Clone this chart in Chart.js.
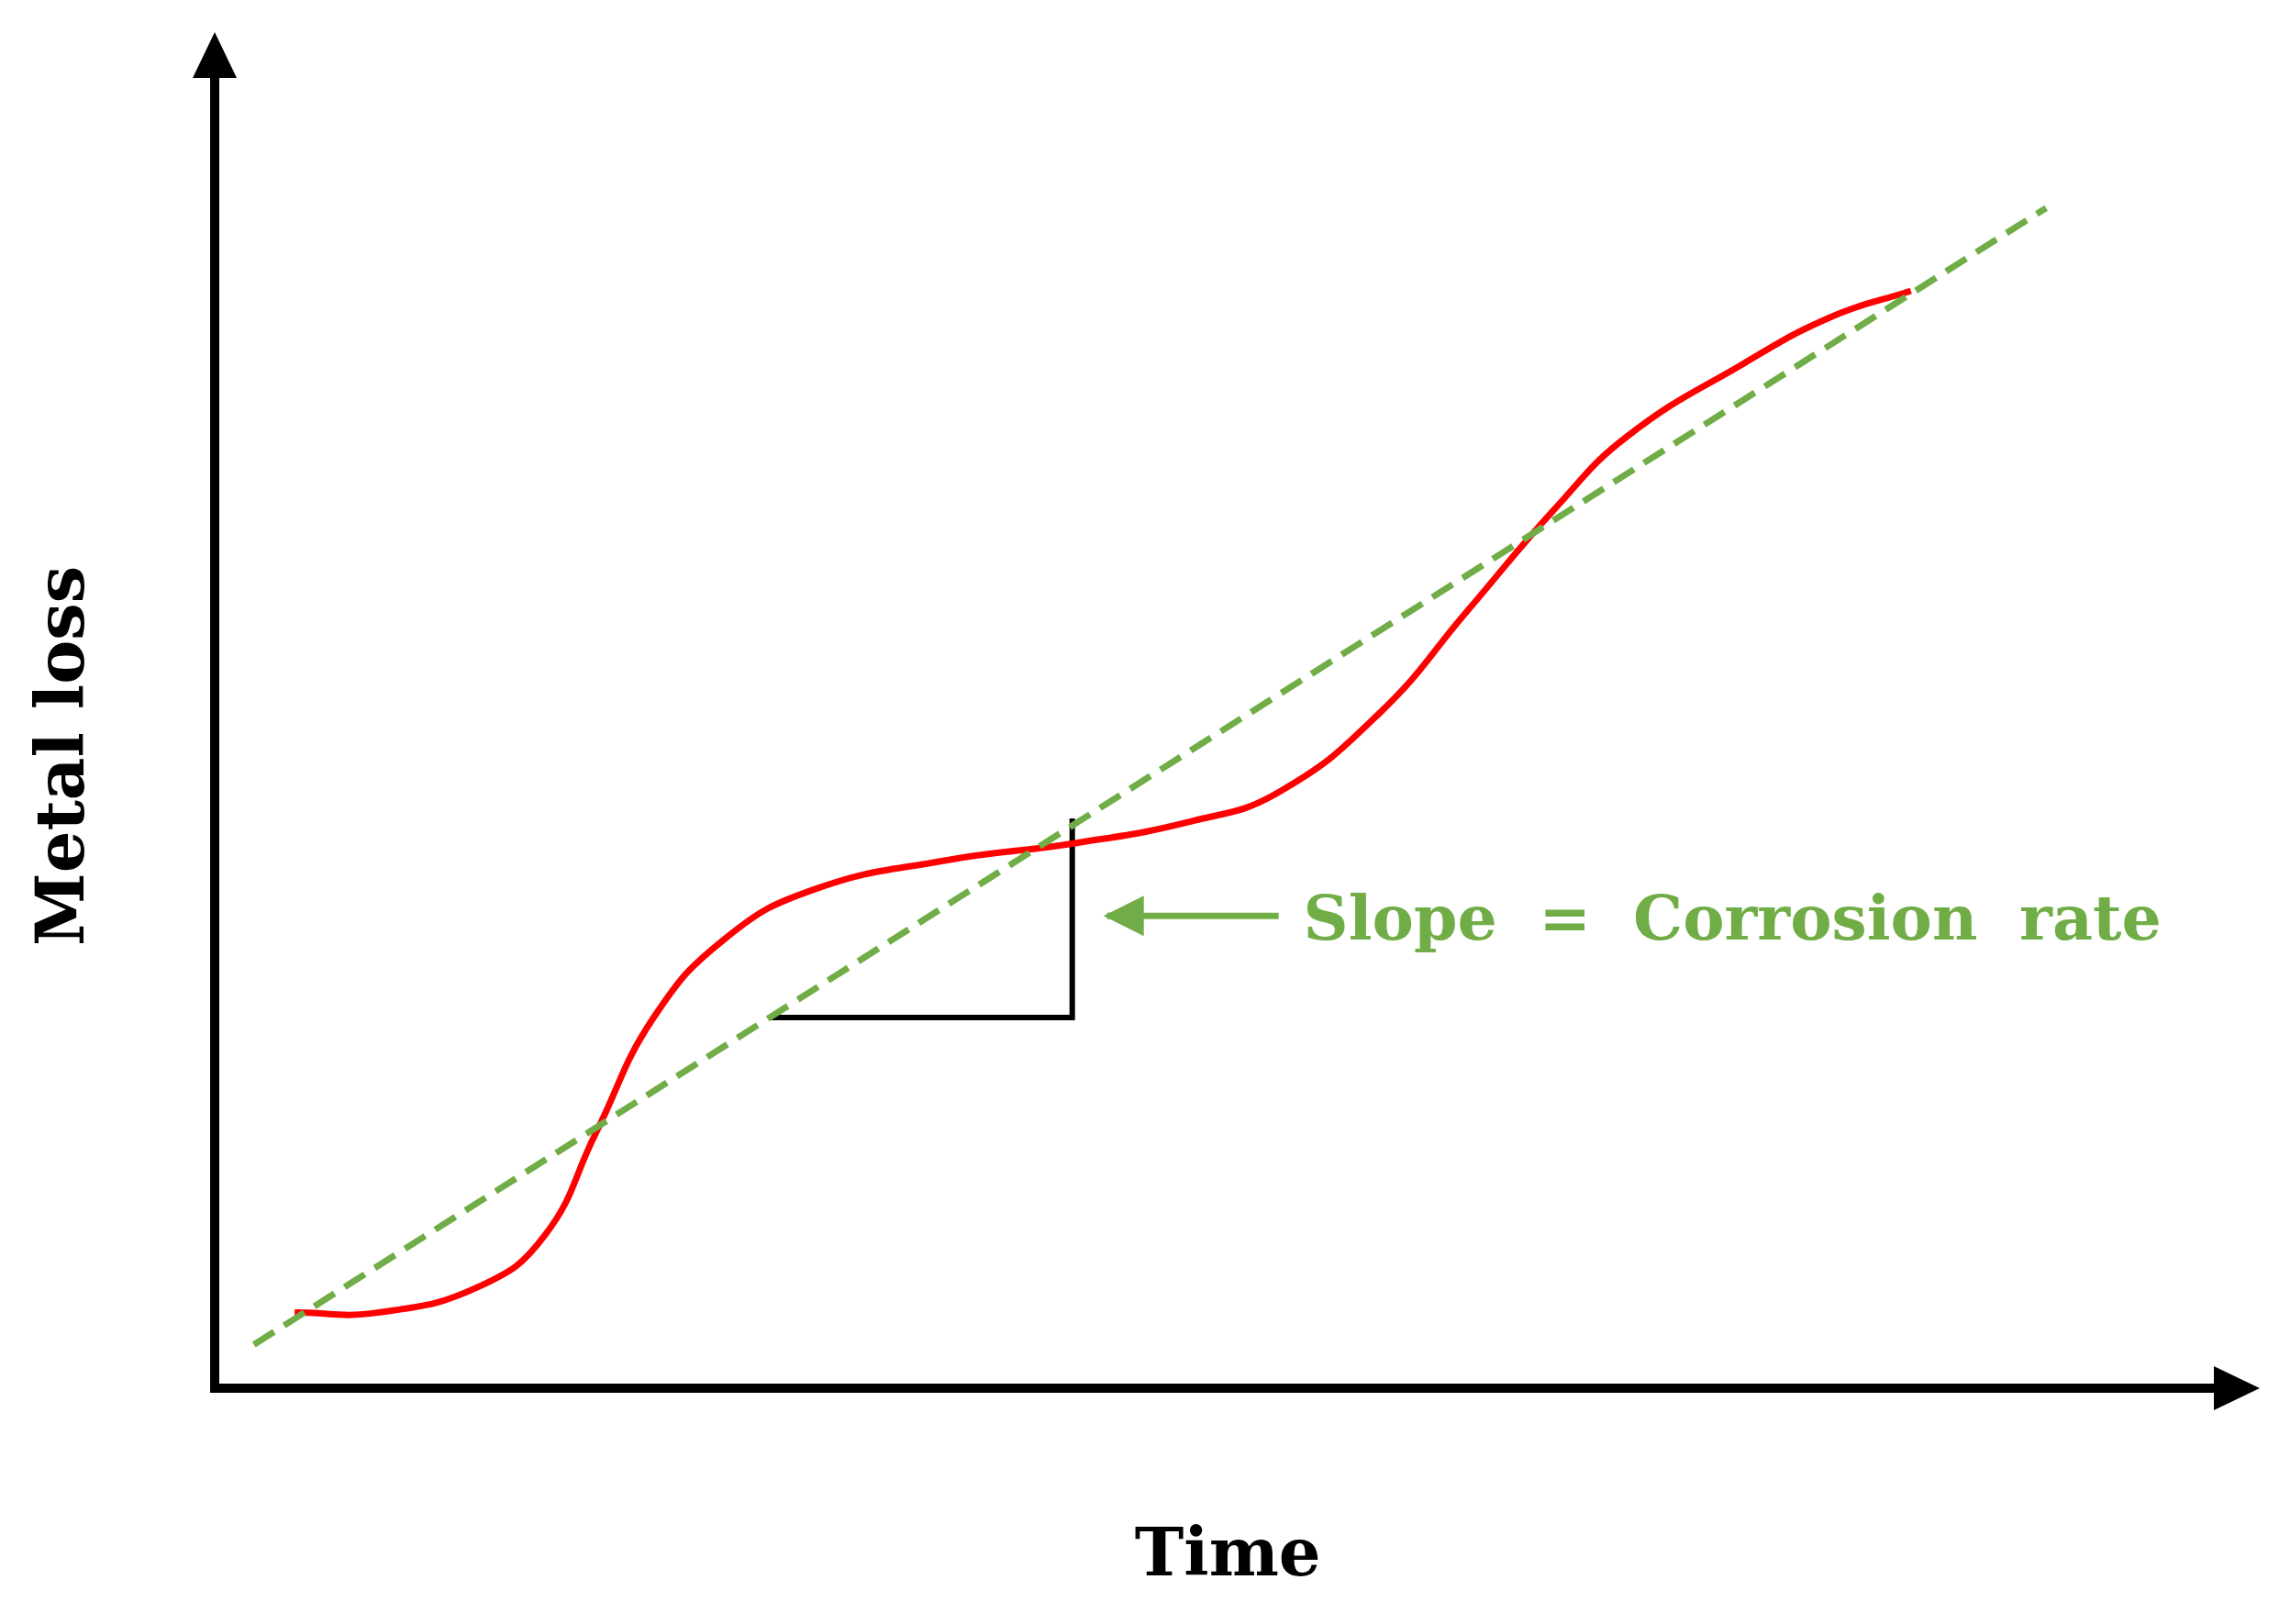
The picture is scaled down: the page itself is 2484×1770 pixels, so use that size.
<!DOCTYPE html>
<html>
<head>
<meta charset="utf-8">
<script src="https://cdn.jsdelivr.net/npm/chart.js@4/dist/chart.umd.min.js"></script>
<style>
  html, body { margin: 0; background: #fff; }
  #wrap { width: 2484px; height: 1770px; }
</style>
</head>
<body>
<div id="wrap"><canvas id="grafico"></canvas></div>
<script>
// curva de pérdida de metal (unidades arbitrarias)
const tiempoReal = [5.5, 11.2, 18.2, 22.7, 26.2, 30.2, 35.2, 41.2, 50.2, 59.2, 67.2, 73.2, 80.2, 86.2, 92.2, 97.2, 105.2, 111.2, 116.7];
const perdidaReal = [5.2, 5.2, 7.0, 10.5, 17.5, 25.5, 31.0, 34.3, 36.3, 37.5, 39.0, 41.0, 46.5, 53.5, 60.5, 65.5, 70.5, 73.7, 75.5];
// recta de ajuste
const tiempoAjuste = [2.7, 126.0];
const perdidaAjuste = [3.0, 81.2];
// triángulo de pendiente
const tiempoTriangulo = [38.2, 59.0, 59.0];
const perdidaTriangulo = [25.5, 25.5, 39.2];
// flecha de la anotación
const flechaX = [73.2, 61.4];
const flechaY = [32.5, 32.5];

const verde = "#70ad47";
const serif = "'DejaVu Serif', 'Liberation Serif', serif";

const puntos = (xs, ys) => xs.map((x, i) => ({ x, y: ys[i] }));

// ejes con flecha y textos
const dibujoExtra = {
  id: "dibujoExtra",
  afterDatasetsDraw(chart) {
    const c = chart.ctx;
    const xs = chart.scales.x, ys = chart.scales.y;
    const x0 = xs.getPixelForValue(0), y0 = ys.getPixelForValue(0);
    const xMax = xs.getPixelForValue(xs.max), yMax = ys.getPixelForValue(ys.max);
    c.save();
    c.strokeStyle = "#000";
    c.fillStyle = "#000";
    c.lineWidth = 10;
    c.beginPath();
    c.moveTo(x0, yMax + 40);
    c.lineTo(x0, y0);
    c.lineTo(xMax - 40, y0);
    c.stroke();
    // puntas
    c.beginPath();
    c.moveTo(x0, yMax);
    c.lineTo(x0 - 24, yMax + 50);
    c.lineTo(x0 + 24, yMax + 50);
    c.closePath();
    c.fill();
    c.beginPath();
    c.moveTo(xMax, y0);
    c.lineTo(xMax - 50, y0 - 24);
    c.lineTo(xMax - 50, y0 + 24);
    c.closePath();
    c.fill();

    // punta de la flecha verde
    const ax = xs.getPixelForValue(flechaX[1]), ay = ys.getPixelForValue(flechaY[1]);
    c.fillStyle = verde;
    c.beginPath();
    c.moveTo(ax - 4, ay);
    c.lineTo(ax + 40, ay - 22);
    c.lineTo(ax + 40, ay + 22);
    c.closePath();
    c.fill();

    // textos
    c.font = "bold 68px " + serif;
    c.wordSpacing = "22px";
    c.textBaseline = "middle";
    c.textAlign = "left";
    c.fillText("Slope = Corrosion rate", xs.getPixelForValue(74.9), ys.getPixelForValue(32.0));
    c.wordSpacing = "0px";

    c.fillStyle = "#000";
    c.font = "bold 72px " + serif;
    c.textAlign = "center";
    c.fillText("Time", xs.getPixelForValue(69.7), 1698);
    c.translate(72, ys.getPixelForValue(43.5));
    c.rotate(-Math.PI / 2);
    c.fillText("Metal loss", 0, 0);
    c.restore();
  }
};

const ctx = document.getElementById("grafico").getContext("2d");
const chart = new Chart(ctx, {
  type: "scatter",
  data: {
    datasets: [
      {
        data: puntos(tiempoAjuste, perdidaAjuste),
        showLine: true,
        borderColor: verde,
        borderWidth: 7,
        borderDash: [26, 13],
        pointRadius: 0
      },
      {
        data: puntos(tiempoReal, perdidaReal),
        showLine: true,
        borderColor: "#ff0000",
        borderWidth: 7,
        tension: 0.45,
        pointRadius: 0
      },
      {
        data: puntos(tiempoTriangulo, perdidaTriangulo),
        showLine: true,
        borderColor: "#000",
        borderWidth: 6,
        tension: 0,
        pointRadius: 0
      },
      {
        data: puntos(flechaX, flechaY),
        showLine: true,
        borderColor: verde,
        borderWidth: 7,
        pointRadius: 0
      }
    ]
  },
  options: {
    responsive: true,
    maintainAspectRatio: false,
    animation: false,
    layout: { padding: { left: 234, top: 35, right: 21, bottom: 257 } },
    plugins: { legend: { display: false }, tooltip: { enabled: false } },
    scales: {
      x: { type: "linear", min: 0, max: 140.7, display: false },
      y: { type: "linear", min: 0, max: 93.3, display: false }
    }
  },
  plugins: [dibujoExtra]
});
</script>
</body>
</html>
